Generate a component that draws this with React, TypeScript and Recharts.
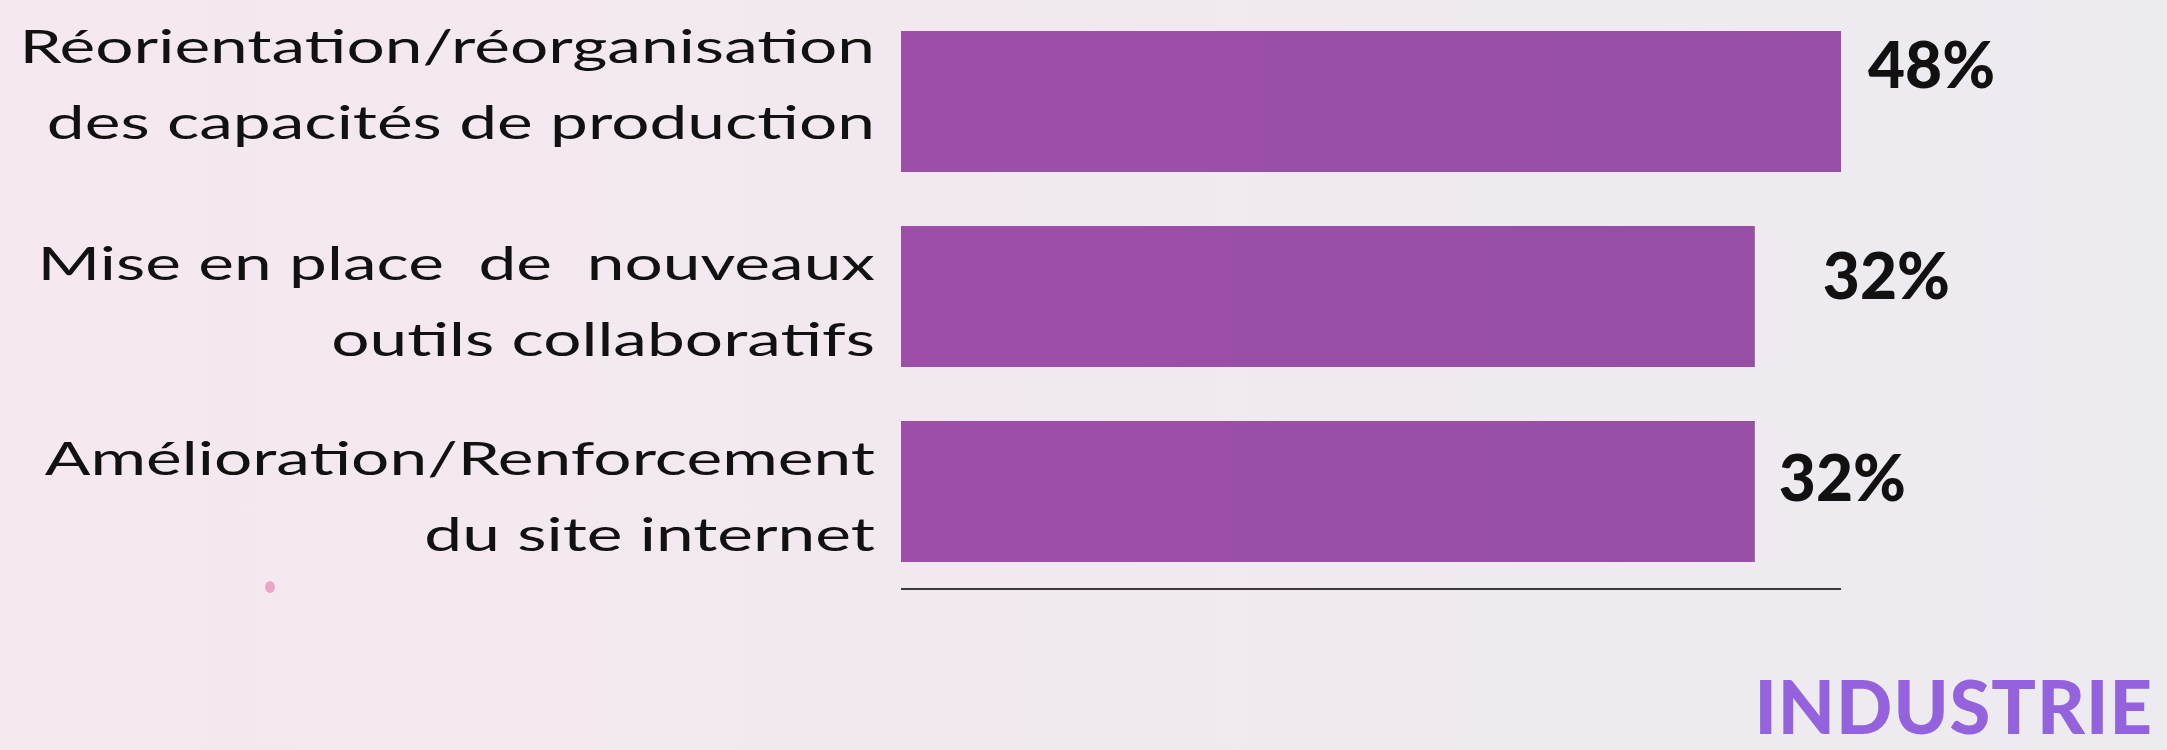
import React from 'react';
import { BarChart, Bar, XAxis, YAxis, LabelList } from 'recharts';

// categories, two lines each
const categories = [
  'Réorientation/réorganisation\ndes capacités de production',
  'Mise en place  de  nouveaux\noutils collaboratifs',
  'Amélioration/Renforcement\ndu site internet',
];
// printed shares (%)
const shares = [48, 32, 32];
// drawn bar lengths (bars are not proportional to the printed shares)
const barLengths = [48, 43.6, 43.6];
const axisMax = 48;

const data = categories.map((name, i) => ({ name, share: shares[i], length: barLengths[i] }));

// hand placement of the texts, like in the source slide
const lineShift = [-39, -17, -17];
const lineGap = 77;
const labelDx = [27, 68, 24];
const labelDy = [-14, 2, 9];
const stretch = 1.47;

const CategoryTick = (props: any) => {
  const { x, y, payload, index } = props;
  const lines = String(payload.value).split('\n');
  return (
    <g transform={`translate(${x},${y + lineShift[index]}) scale(${stretch},1)`}>
      <text
        textAnchor="end"
        fontFamily="Lato, sans-serif"
        fontWeight={400}
        fontSize={46}
        fill="#111"
        style={{ whiteSpace: 'pre' }}
      >
        {lines.map((l, i) => (
          <tspan key={i} x={0} y={i * lineGap}>
            {l}
          </tspan>
        ))}
      </text>
    </g>
  );
};

const ShareLabel = (props: any) => {
  const { x, y, width, height, index } = props;
  return (
    <text
      x={x + width + labelDx[index]}
      y={y + height / 2 + labelDy[index]}
      fontFamily="Lato, sans-serif"
      fontWeight={900}
      fontSize={64}
      fill="#111"
    >
      {shares[index]}%
    </text>
  );
};

export default function App() {
  return (
    <div
      style={{
        position: 'fixed',
        left: 0,
        top: 0,
        width: 2167,
        height: 750,
        overflow: 'hidden',
        background: 'linear-gradient(90deg, #f5e8f0 0%, #f1e9f0 50%, #ecebf0 100%)',
      }}
    >
      <BarChart
        width={2167}
        height={750}
        data={data}
        layout="vertical"
        margin={{ top: 4, right: 326, bottom: 131, left: 0 }}
      >
        <defs>
          <linearGradient id="barFill" x1="0" y1="0" x2="1" y2="0">
            <stop offset="0%" stopColor="#9d4fa8" />
            <stop offset="100%" stopColor="#964fa5" />
          </linearGradient>
        </defs>
        <XAxis
          type="number"
          domain={[0, axisMax]}
          tick={false}
          tickLine={false}
          height={30}
          axisLine={{ stroke: '#3a3a3e', strokeWidth: 2 }}
        />
        <YAxis
          type="category"
          dataKey="name"
          width={901}
          axisLine={false}
          tickLine={false}
          tickSize={0}
          tickMargin={26}
          tick={<CategoryTick />}
          interval={0}
        />
        <Bar dataKey="length" barSize={141} fill="url(#barFill)" isAnimationActive={false}>
          <LabelList dataKey="share" content={<ShareLabel />} />
        </Bar>
      </BarChart>
      <svg
        width={2167}
        height={750}
        style={{ position: 'absolute', left: 0, top: 0, pointerEvents: 'none' }}
      >
        <ellipse cx={270} cy={587} rx={5} ry={6} fill="#eaa6c9" />
        <text
          x={2153}
          y={734}
          textAnchor="end"
          fontFamily="Lato, sans-serif"
          fontWeight={900}
          fontSize={74}
          letterSpacing={1}
          fill="#9462dc"
        >
          INDUSTRIE
        </text>
      </svg>
    </div>
  );
}
